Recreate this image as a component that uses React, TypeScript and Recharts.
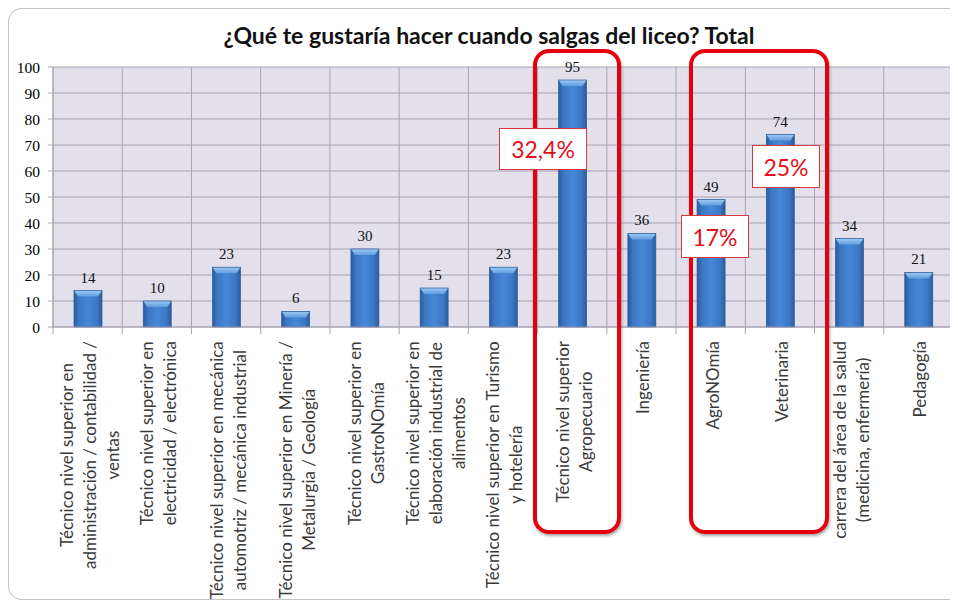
import React from "react";
import { BarChart, Bar, XAxis, YAxis, CartesianGrid, LabelList } from "recharts";

// Respuestas por carrera / área
const categories = [
  "Técnico nivel superior en administración / contabilidad / ventas",
  "Técnico nivel superior en electricidad / electrónica",
  "Técnico nivel superior en mecánica automotriz / mecánica industrial",
  "Técnico nivel superior en Minería / Metalurgia / Geología",
  "Técnico nivel superior en GastroNOmía",
  "Técnico nivel superior en elaboración industrial de alimentos",
  "Técnico nivel superior en Turismo y hotelería",
  "Técnico nivel superior Agropecuario",
  "Ingeniería",
  "AgroNOmía",
  "Veterinaria",
  "carrera del área de la salud (medicina, enfermería)",
  "Pedagogía",
];

const totals = [14, 10, 23, 6, 30, 15, 23, 95, 36, 49, 74, 34, 21];

const tickLines = [
  ["Técnico nivel superior en", "administración / contabilidad /", "ventas"],
  ["Técnico nivel superior en", "electricidad / electrónica"],
  ["Técnico nivel superior en mecánica", "automotriz / mecánica industrial"],
  ["Técnico nivel superior en Minería /", "Metalurgia / Geología"],
  ["Técnico nivel superior en", "GastroNOmía"],
  ["Técnico nivel superior en", "elaboración industrial de", "alimentos"],
  ["Técnico nivel superior en Turismo", "y hotelería"],
  ["Técnico nivel superior", "Agropecuario"],
  ["Ingeniería"],
  ["AgroNOmía"],
  ["Veterinaria"],
  ["carrera del área de la salud", "(medicina, enfermería)"],
  ["Pedagogía"],
];

const yTicks = [0, 10, 20, 30, 40, 50, 60, 70, 80, 90, 100];

const data = categories.map((name, i) => ({ name, total: totals[i], lines: tickLines[i] }));

const W = 950;
const H = 592;
const MARGIN = { top: 59, right: 5, bottom: 3, left: 0 };
const Y_AXIS_W = 45;
const X_AXIS_H = 270;
const BAND = (W - MARGIN.left - MARGIN.right - Y_AXIS_W) / categories.length;

const LABEL_FONT = 17;
const LABEL_FAMILY = "Lato, 'Open Sans', sans-serif";
const LINE_GAP = 23;
const GRID = "#a6a2b4";
const SERIF = "'Liberation Serif', 'DejaVu Serif', serif";

let measureCtx: CanvasRenderingContext2D | null = null;
function textWidth(s: string) {
  if (!measureCtx) measureCtx = document.createElement("canvas").getContext("2d");
  if (!measureCtx) return s.length * LABEL_FONT * 0.5;
  measureCtx.font = `${LABEL_FONT}px Lato`;
  return measureCtx.measureText(s).width;
}

function CategoryTick(props: any) {
  const { x, y, payload, index } = props;
  const lines: string[] = data[index]?.lines ?? [String(payload.value)];
  const maxW = Math.max(...lines.map(textWidth));
  const cy = y + 14 + maxW / 2;
  const n = lines.length;
  const left = x - BAND / 2;
  return (
    <g>
      <line x1={left} y1={y} x2={left} y2={y + 7} stroke={GRID} />
      {index === categories.length - 1 && (
        <line x1={x + BAND / 2} y1={y} x2={x + BAND / 2} y2={y + 7} stroke={GRID} />
      )}
      {lines.map((ln, i) => {
        const px = x + 3 + (i - (n - 1) / 2) * LINE_GAP + 5;
        return (
          <text
            key={i}
            x={px}
            y={cy}
            transform={`rotate(-90, ${px}, ${cy})`}
            textAnchor="middle"
            fontFamily={LABEL_FAMILY}
            fontSize={LABEL_FONT}
            fill="#3a3a3a"
          >
            {ln}
          </text>
        );
      })}
    </g>
  );
}

function GlossyBar(props: any) {
  const { x, y, width, height } = props;
  if (!height || height <= 0) return null;
  const cap = Math.min(6, height);
  return (
    <g>
      <rect x={x} y={y} width={width} height={height} fill="url(#barBody)" />
      <path
        d={`M${x},${y} L${x + width},${y} L${x + width - 4},${y + cap} L${x + 4},${y + cap} Z`}
        fill="url(#barCap)"
      />
      <rect x={x} y={y} width={width} height={height} fill="none" stroke="#2b5a96" strokeWidth={0.7} />
    </g>
  );
}

const frame: React.CSSProperties = {
  position: "absolute",
  border: "4px solid #e5000d",
  borderRadius: 16,
  boxShadow: "1px 2px 3px rgba(0,0,0,0.35)",
  boxSizing: "border-box",
};

const pctBox: React.CSSProperties = {
  position: "absolute",
  background: "#fff",
  border: "1px solid #d63a3a",
  boxSizing: "border-box",
  color: "#e3101c",
  fontFamily: "Lato, sans-serif",
  fontSize: 23,
  display: "flex",
  alignItems: "center",
  justifyContent: "center",
};

export default function App() {
  return (
    <div
      style={{
        position: "relative",
        width: W,
        height: H,
        border: "1px solid #c4c4c4",
        borderRight: "none",
        borderRadius: "14px 0 0 14px",
        boxSizing: "border-box",
        background: "#fff",
        overflow: "hidden",
      }}
    >
      <div
        style={{
          position: "absolute",
          left: 20,
          top: 12,
          width: 920,
          textAlign: "center",
          fontFamily: "Lato, sans-serif",
          fontWeight: 700,
          fontSize: 23,
          color: "#111",
          whiteSpace: "nowrap",
        }}
      >
        ¿Qué te gustaría hacer cuando salgas del liceo? Total
      </div>
      <div style={{ position: "absolute", left: -1, top: -1 }}>
        <BarChart width={W} height={H} data={data} margin={MARGIN} barSize={28}>
          <defs>
            <linearGradient id="barBody" x1="0" y1="0" x2="1" y2="0">
              <stop offset="0%" stopColor="#2c5c9c" />
              <stop offset="18%" stopColor="#3a77c4" />
              <stop offset="50%" stopColor="#4788d6" />
              <stop offset="82%" stopColor="#3a77c4" />
              <stop offset="100%" stopColor="#2c5c9c" />
            </linearGradient>
            <linearGradient id="barCap" x1="0" y1="0" x2="0" y2="1">
              <stop offset="0%" stopColor="#9fcaf2" />
              <stop offset="100%" stopColor="#5f9de0" />
            </linearGradient>
          </defs>
          <CartesianGrid
            fill="#e4e0eb"
            stroke={GRID}
            strokeWidth={1}
            verticalCoordinatesGenerator={({ offset }: any) =>
              categories.map((_, i) => offset.left + i * (offset.width / categories.length)).concat(offset.left + offset.width)
            }
          />
          <XAxis
            dataKey="name"
            interval={0}
            height={X_AXIS_H}
            tickSize={0}
            tickMargin={0}
            tick={<CategoryTick />}
            axisLine={{ stroke: GRID }}
          />
          <YAxis
            width={Y_AXIS_W}
            domain={[0, 100]}
            ticks={yTicks}
            interval={0}
            tickSize={5}
            tickMargin={8}
            axisLine={{ stroke: GRID }}
            tickLine={{ stroke: GRID }}
            tick={{ fill: "#000", fontSize: 15.5, fontFamily: SERIF }}
          />
          <Bar dataKey="total" shape={<GlossyBar />} isAnimationActive={false}>
            <LabelList
              dataKey="total"
              position="top"
              offset={8}
              fill="#111"
              fontSize={15}
              fontFamily={SERIF}
            />
          </Bar>
        </BarChart>
      </div>
      {/* marcos de resaltado */}
      <div style={{ ...frame, left: 524, top: 40, width: 88, height: 485 }} />
      <div style={{ ...frame, left: 680, top: 40, width: 140, height: 485 }} />
      <div style={{ ...pctBox, left: 490, top: 119, width: 88, height: 42 }}>32,4%</div>
      <div style={{ ...pctBox, left: 672, top: 206, width: 68, height: 43 }}>17%</div>
      <div style={{ ...pctBox, left: 743, top: 136, width: 68, height: 43 }}>25%</div>
    </div>
  );
}
